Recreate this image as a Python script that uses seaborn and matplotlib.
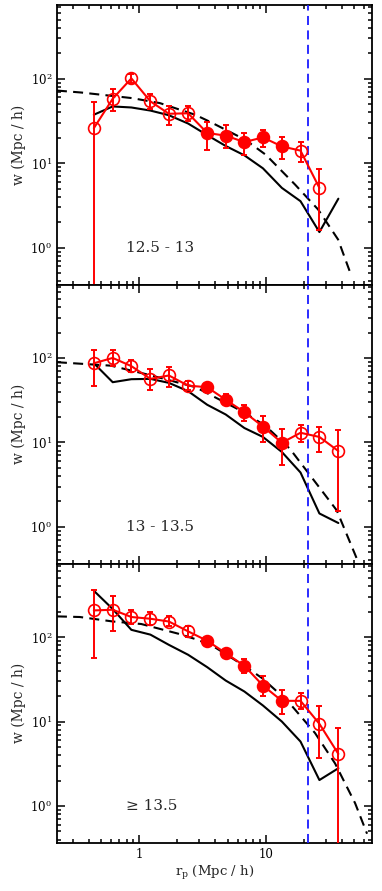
import numpy as np
import pandas as pd
import matplotlib
matplotlib.use('Agg')
import matplotlib.pyplot as plt
from matplotlib.ticker import LogLocator, NullFormatter, FixedLocator, FixedFormatter
import seaborn as sns

sns.set_style('ticks')
plt.rcParams['font.family'] = ['DejaVu Serif']
plt.rcParams['mathtext.fontset'] = 'dejavuserif'

# projected separations (Mpc / h)
rp = [0.44, 0.62, 0.87, 1.23, 1.72, 2.44, 3.45, 4.83, 6.78, 9.5, 13.4, 18.8, 26.5, 37.4]
filled = [False] * 6 + [True] * 5 + [False] * 3

labels = ['12.5 - 13', '13 - 13.5', '\u2265 13.5']

# measured w_p, with upper / lower ends of the error bars
w_obs1 = [26, 58, 101, 54, 38.5, 39, 22.8, 21.2, 17.8, 20.2, 15.8, 14.1, 5.1]
w_hi1 = [52.6, 75, 114, 66, 48, 47, 31, 28, 23, 25, 20.2, 17.7, 8.6]
w_lo1 = [0.1, 42, 90, 44, 28, 31.6, 14.2, 15.2, 12.4, 15.7, 11.3, 10.2, 1.6]

w_obs2 = [86.5, 100, 80, 56.5, 62, 47, 45, 32, 22.8, 15.4, 9.9, 13, 11.6, 7.9]
w_hi2 = [125, 124, 95, 73, 77.6, 53, 48, 37.6, 27.9, 20.6, 14.4, 15.9, 15.4, 14.1]
w_lo2 = [47, 80, 68, 42, 45, 41.5, 42, 27.4, 17.7, 10.1, 5.45, 10.1, 7.8, 1.55]

w_obs3 = [207, 211, 173, 165, 153, 117, 90.5, 64.6, 45.7, 26.7, 17.6, 17.6, 9.4, 4.14]
w_hi3 = [357, 309, 207, 196, 179, 136, 97, 69.5, 54.8, 34.2, 23.7, 22, 15.3, 8.34]
w_lo3 = [56.4, 117, 144, 140, 134, 100, 83, 60, 38, 20.2, 12.3, 14, 3.67, 0.1]

# mock catalogue (solid black)
w_mock1 = [37.5, 47, 45.7, 42, 37, 29.5, 21.5, 16, 12.4, 8.7, 5.1, 3.55, 1.53, 3.8]
w_mock2 = [86.5, 51.6, 56, 56.5, 50.7, 40.4, 27.9, 21.4, 14.8, 11.6, 7.7, 4.4, 1.44, 1.11]
w_mock3 = [354, 215, 122, 107, 81, 61.8, 44.1, 30.6, 22.7, 15.5, 10, 5.8, 2.03, 2.8]

# model (dashed black)
rp_mod1 = [0.225, 0.35, 0.88, 1.46, 2.77, 3.7, 6.87, 10, 17, 25.9, 37.2, 46.3]
w_mod1 = [72.5, 68.7, 59, 51.5, 37.5, 30.5, 19, 12.6, 5.6, 2.83, 1.25, 0.51]
rp_mod2 = [0.225, 0.6, 1.2, 2.8, 6.7, 10, 15.5, 22.4, 36.3, 52.3]
w_mod2 = [89, 81, 63, 45, 22.8, 15.6, 8.4, 4.07, 1.57, 0.42]
rp_mod3 = [0.225, 0.342, 0.624, 1.04, 2.03, 2.77, 3.7, 6.87, 9.35, 15, 24.5, 35.2, 50.7, 63]
w_mod3 = [176, 173, 153, 143, 110, 95, 81, 45, 32.7, 17.3, 7.3, 3.2, 1.08, 0.47]

r_cut = 21.7

panels = [
    (w_obs1, w_hi1, w_lo1, w_mock1, rp_mod1, w_mod1),
    (w_obs2, w_hi2, w_lo2, w_mock2, rp_mod2, w_mod2),
    (w_obs3, w_hi3, w_lo3, w_mock3, rp_mod3, w_mod3),
]

fig, axes = plt.subplots(3, 1, figsize=(3.82, 8.91), dpi=100, sharex=True)
fig.subplots_adjust(left=0.149, right=0.974, top=0.994, bottom=0.054, hspace=0)

for ax, (obs, hi, lo, mock, rmod, wmod), lab in zip(axes, panels, labels):
    n = len(obs)
    df = pd.DataFrame({'rp': rp[:n], 'w': obs, 'hi': hi, 'lo': lo, 'filled': filled[:n]})
    mk = pd.DataFrame({'rp': rp, 'w': mock})
    md = pd.DataFrame({'rp': rmod, 'w': wmod})

    sns.lineplot(data=md, x='rp', y='w', ax=ax, color='k', lw=1.5, estimator=None, sort=False,
                 dashes=False, zorder=2).lines[-1].set_dashes((4.8, 3.0))
    sns.lineplot(data=mk, x='rp', y='w', ax=ax, color='k', lw=1.5, estimator=None, sort=False, zorder=2)
    ax.axvline(r_cut, color='#1a1aff', lw=1.3, dashes=(5.0, 3.0), zorder=3)

    sns.lineplot(data=df, x='rp', y='w', ax=ax, color='red', lw=1.5, estimator=None, sort=False, zorder=4)
    ax.errorbar(df['rp'], df['w'], yerr=[df['w'] - df['lo'], df['hi'] - df['w']], fmt='none',
                ecolor='red', elinewidth=1.4, capsize=2.5, capthick=1.4, zorder=5)
    op = df[~df['filled']]
    fl = df[df['filled']]
    ax.plot(op['rp'], op['w'], 'o', ms=8.5, mfc='none', mec='red', mew=1.2, zorder=6)
    ax.plot(fl['rp'], fl['w'], 'o', ms=8.5, mfc='red', mec='red', mew=1.2, zorder=6)

    ax.set_xscale('log')
    ax.set_yscale('log')
    ax.set_xlim(0.225, 69)
    ax.set_ylim(0.366, 740)
    ax.yaxis.set_major_locator(FixedLocator([1, 10, 100]))
    ax.yaxis.set_major_formatter(FixedFormatter(['$10^0$', '$10^1$', '$10^2$']))
    ax.yaxis.set_minor_locator(LogLocator(base=10, subs=np.arange(2, 10)))
    ax.yaxis.set_minor_formatter(NullFormatter())
    ax.xaxis.set_minor_locator(LogLocator(base=10, subs=np.arange(2, 10)))
    ax.xaxis.set_minor_formatter(NullFormatter())
    ax.tick_params(which='both', direction='in', top=True, right=True, width=1.1, labelsize=8.5, colors='k')
    ax.tick_params(which='major', length=6)
    ax.tick_params(which='minor', length=3)
    for sp in ax.spines.values():
        sp.set_linewidth(1.3)
        sp.set_color('k')
    ax.set_ylabel('w (Mpc / h)', fontsize=10, labelpad=3)
    ax.set_xlabel('')
    ax.text(0.219, 0.132, lab, transform=ax.transAxes, ha='left', va='center', fontsize=11)

axes[-1].xaxis.set_major_locator(FixedLocator([1, 10]))
axes[-1].xaxis.set_major_formatter(FixedFormatter(['1', '10']))
axes[-1].set_xlabel(r'r$_{\rm p}$ (Mpc / h)', fontsize=9.5, labelpad=2)

fig.savefig('out.png', dpi=100)
